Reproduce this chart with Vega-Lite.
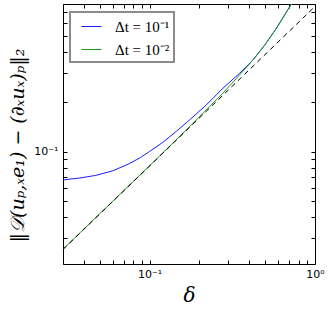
{
  "$schema": "https://vega.github.io/schema/vega-lite/v6.json",
  "width": 252,
  "height": 260,
  "autosize": "none",
  "padding": {"left": 63, "top": 4, "right": 17, "bottom": 45},
  "background": "white",
  "config": {
    "view": {"stroke": null},
    "axis": {"grid": false, "domainColor": "black", "domainWidth": 1, "tickColor": "black", "tickWidth": 1, "labelFont": "DejaVu Sans", "labelFontSize": 11, "labelColor": "black", "titleColor": "black", "titleFontWeight": "normal", "labelOverlap": false, "labelFlush": false}
  },
  "layer": [
    {
      "data": {"values": [
        {"delta": 0.03, "err": 0.0674, "series": "Δt = 10⁻¹"},
        {"delta": 0.038, "err": 0.0693, "series": "Δt = 10⁻¹"},
        {"delta": 0.0473, "err": 0.0718, "series": "Δt = 10⁻¹"},
        {"delta": 0.06, "err": 0.0766, "series": "Δt = 10⁻¹"},
        {"delta": 0.0753, "err": 0.0845, "series": "Δt = 10⁻¹"},
        {"delta": 0.088, "err": 0.092, "series": "Δt = 10⁻¹"},
        {"delta": 0.1, "err": 0.1002, "series": "Δt = 10⁻¹"},
        {"delta": 0.12, "err": 0.1135, "series": "Δt = 10⁻¹"},
        {"delta": 0.145, "err": 0.1325, "series": "Δt = 10⁻¹"},
        {"delta": 0.1748, "err": 0.1556, "series": "Δt = 10⁻¹"},
        {"delta": 0.22, "err": 0.1914, "series": "Δt = 10⁻¹"},
        {"delta": 0.278, "err": 0.242, "series": "Δt = 10⁻¹"},
        {"delta": 0.351, "err": 0.2985, "series": "Δt = 10⁻¹"},
        {"delta": 0.423, "err": 0.3595, "series": "Δt = 10⁻¹"},
        {"delta": 0.5, "err": 0.445, "series": "Δt = 10⁻¹"},
        {"delta": 0.586, "err": 0.56, "series": "Δt = 10⁻¹"},
        {"delta": 0.722, "err": 0.785, "series": "Δt = 10⁻¹"},
        {"delta": 0.03, "err": 0.0257, "series": "Δt = 10⁻²"},
        {"delta": 0.1099, "err": 0.0899, "series": "Δt = 10⁻²"},
        {"delta": 0.1748, "err": 0.1417, "series": "Δt = 10⁻²"},
        {"delta": 0.278, "err": 0.226, "series": "Δt = 10⁻²"},
        {"delta": 0.351, "err": 0.2918, "series": "Δt = 10⁻²"},
        {"delta": 0.423, "err": 0.3595, "series": "Δt = 10⁻²"},
        {"delta": 0.5, "err": 0.445, "series": "Δt = 10⁻²"},
        {"delta": 0.586, "err": 0.56, "series": "Δt = 10⁻²"},
        {"delta": 0.722, "err": 0.785, "series": "Δt = 10⁻²"}
      ]},
      "mark": {"type": "line", "strokeWidth": 1, "clip": true},
      "encoding": {
        "x": {"field": "delta", "type": "quantitative",
          "scale": {"type": "log", "domain": [0.03, 1], "nice": false},
          "axis": {"orient": "bottom", "values": [0.03, 0.04, 0.05, 0.06, 0.07, 0.08, 0.09, 0.1, 0.2, 0.3, 0.4, 0.5, 0.6, 0.7, 0.8, 0.9, 1],
            "tickSize": -4, "labelPadding": 8,
            "labelExpr": "datum.value == 0.1 ? '10⁻¹' : (datum.value == 1 ? '10⁰' : '')",
            "title": "δ", "titleFont": "DejaVu Serif", "titleFontStyle": "italic", "titleFontSize": 20,
            "titleX": 126, "titleY": 37, "titleBaseline": "alphabetic", "titleAlign": "center"}},
        "y": {"field": "err", "type": "quantitative",
          "scale": {"type": "log", "domain": [0.0209, 0.782], "nice": false},
          "axis": {"orient": "left", "values": [0.03, 0.04, 0.05, 0.06, 0.07, 0.08, 0.09, 0.1, 0.2, 0.3, 0.4, 0.5, 0.6, 0.7],
            "tickSize": -4, "labelPadding": 9,
            "labelExpr": "datum.value == 0.1 ? '10⁻¹' : ''",
            "title": "‖𝒟(uₚ,ₓe₁) − (∂ₓuₓ)ₚ‖₂", "titleFont": "DejaVu Serif", "titleFontStyle": "italic", "titleFontSize": 19,
            "titleAngle": 270, "titleAlign": "center", "titleBaseline": "middle", "titleX": -46, "titleY": 141}},
        "color": {"field": "series", "type": "nominal",
          "scale": {"domain": ["Δt = 10⁻¹", "Δt = 10⁻²"], "range": ["#1a1aff", "#1f9a1f"]},
          "legend": {"orient": "none", "legendX": 7, "legendY": 8, "title": null,
            "symbolType": "stroke", "symbolSize": 400, "symbolStrokeWidth": 1, "symbolOffset": 7,
            "labelFont": "Liberation Serif", "labelFontSize": 15, "labelColor": "black", "labelOffset": 13,
            "padding": 4, "rowPadding": 4, "fillColor": "white", "strokeColor": "#8c8c8c",
            "encode": {"legend": {"update": {"strokeWidth": {"value": 2}}}}}}
      }
    },
    {
      "data": {"values": [{"delta": 0.03, "err": 0.0256}, {"delta": 1.0, "err": 0.756}]},
      "mark": {"type": "line", "color": "black", "strokeDash": [5, 4], "strokeWidth": 1, "clip": true},
      "encoding": {
        "x": {"field": "delta", "type": "quantitative",
          "scale": {"type": "log", "domain": [0.03, 1], "nice": false},
          "axis": {"orient": "top", "values": [0.03, 0.04, 0.05, 0.06, 0.07, 0.08, 0.09, 0.1, 0.2, 0.3, 0.4, 0.5, 0.6, 0.7, 0.8, 0.9, 1],
            "tickSize": -4, "labels": false, "title": null}},
        "y": {"field": "err", "type": "quantitative",
          "scale": {"type": "log", "domain": [0.0209, 0.782], "nice": false},
          "axis": {"orient": "right", "values": [0.03, 0.04, 0.05, 0.06, 0.07, 0.08, 0.09, 0.1, 0.2, 0.3, 0.4, 0.5, 0.6, 0.7],
            "tickSize": -4, "labels": false, "title": null}}
      }
    }
  ],
  "resolve": {"axis": {"x": "independent", "y": "independent"}}
}
